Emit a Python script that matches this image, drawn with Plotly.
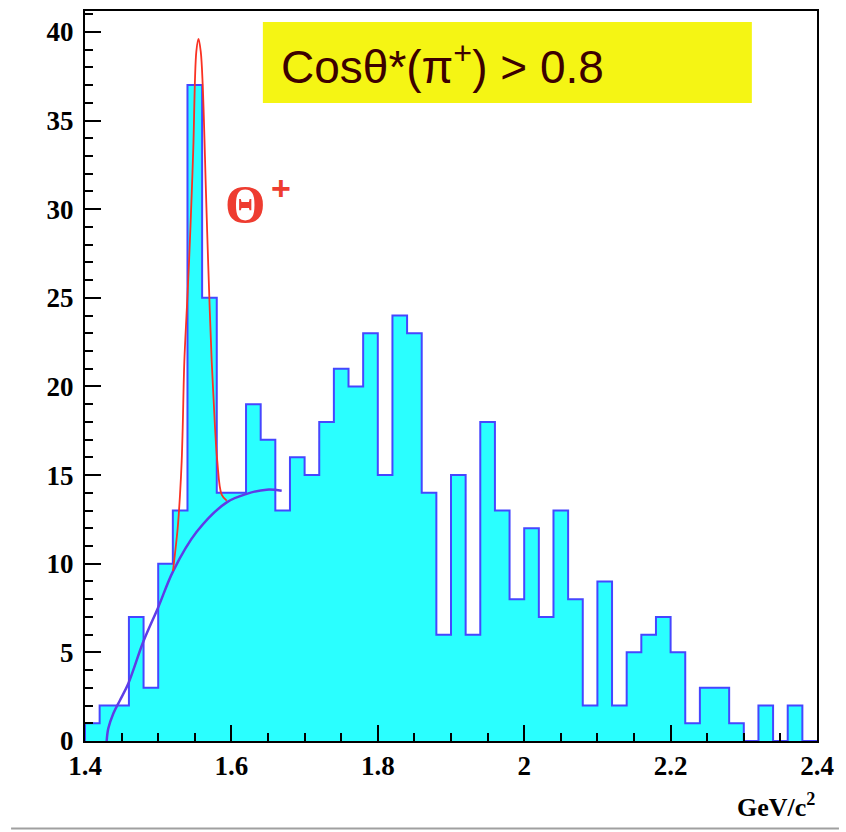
import plotly.graph_objects as go

# ---------------- data ----------------
bin_lo = 1.4
bin_width = 0.02
counts = [1, 2, 2, 7, 3, 10, 13, 37, 25, 14,
          14, 19, 17, 13, 16, 15, 18, 21, 20, 23,
          15, 24, 23, 14, 6, 15, 6, 18, 13, 8,
          12, 7, 13, 8, 2, 9, 2, 5, 6, 7,
          5, 1, 3, 3, 1, 0, 2, 0, 2, 0]

# background fit
bg_x = [1.4296, 1.4318, 1.4387, 1.4478, 1.4592, 1.4796, 1.5001, 1.5206,
        1.5526, 1.5936, 1.6209, 1.6482, 1.6687]
bg_y = [0.0, 0.7, 1.55, 2.3, 3.25, 5.6, 7.55, 9.6,
        11.8, 13.46, 13.94, 14.18, 14.12]

# signal + background fit
sig_x = [1.5202, 1.5266, 1.5298, 1.5321, 1.5335, 1.5357, 1.5390, 1.5421,
         1.5458, 1.5480, 1.5521, 1.5551, 1.5581, 1.5608, 1.5653, 1.5684,
         1.5731, 1.5776, 1.5807, 1.5867, 1.5936]
sig_y = [9.6, 12.0, 13.9, 15.8, 17.7, 21.4, 24.3, 27.0,
         30.9, 33.5, 38.9, 39.6, 38.9, 37.0, 30.9, 26.8,
         21.4, 17.7, 15.8, 13.9, 13.56]

x_ticks_dtick = 0.2
y_ticks_dtick = 5

# ---------------- build step outline ----------------
edges = [round(bin_lo + i * bin_width, 4) for i in range(len(counts) + 1)]
step_x = [edges[0]] + edges[:-1] + [edges[-1]]
step_y = [0] + counts + [counts[-1]]

fig = go.Figure()
fig.add_trace(go.Scatter(
    x=step_x, y=step_y, mode="lines", line_shape="hv",
    line=dict(color="rgb(70,70,255)", width=2),
    fill="tozeroy", fillcolor="rgb(42,255,255)",
    hoverinfo="skip", showlegend=False))
fig.add_trace(go.Scatter(
    x=bg_x, y=bg_y, mode="lines", line_shape="spline",
    line=dict(color="rgb(95,60,230)", width=2.5),
    showlegend=False))
fig.add_trace(go.Scatter(
    x=sig_x, y=sig_y, mode="lines", line_shape="spline",
    line=dict(color="rgb(250,50,35)", width=1.8),
    showlegend=False))

tickfont = dict(family="Liberation Serif", size=27, color="black", weight="bold")

fig.update_xaxes(
    range=[1.4, 2.4], tick0=1.4, dtick=x_ticks_dtick,
    ticks="inside", ticklen=16, tickwidth=1.5, tickcolor="black",
    minor=dict(dtick=0.05, tick0=1.4, ticks="inside", ticklen=8,
               tickwidth=1.5, tickcolor="black"),
    showline=True, linewidth=2, linecolor="black", mirror=True,
    showgrid=False, zeroline=False, tickfont=tickfont,
    ticklabelstandoff=0)
fig.update_yaxes(
    range=[0, 41.18], tick0=0, dtick=y_ticks_dtick,
    ticks="inside", ticklen=16, tickwidth=1.5, tickcolor="black",
    minor=dict(dtick=1, tick0=0, ticks="inside", ticklen=8,
               tickwidth=1.5, tickcolor="black"),
    showline=True, linewidth=2, linecolor="black", mirror=True,
    showgrid=False, zeroline=False, tickfont=tickfont,
    ticklabelstandoff=4)

fig.update_layout(
    width=846, height=832,
    margin=dict(l=85, r=29, t=9, b=91),
    plot_bgcolor="white", paper_bgcolor="white",
    shapes=[
        dict(type="rect", xref="paper", yref="paper",
             x0=0.243, x1=0.911, y0=0.874, y1=0.985,
             fillcolor="rgb(245,245,20)", line=dict(width=0), layer="above"),
        dict(type="line", xref="paper", yref="paper",
             x0=-0.101, x1=1.03, y0=-0.120, y1=-0.120,
             line=dict(color="rgb(160,160,160)", width=2)),
    ],
    annotations=[
        dict(text="Cosθ*(π<sup>+</sup>) > 0.8", xref="paper", yref="paper",
             x=0.489, y=0.928, xanchor="center", yanchor="middle",
             showarrow=False,
             font=dict(family="Liberation Sans", size=46, color="rgb(60,0,0)")),
        dict(text="Θ", xref="paper", yref="paper",
             x=0.188, y=0.735, xanchor="left", yanchor="middle",
             showarrow=False,
             font=dict(family="Liberation Serif", size=52, color="rgb(238,60,48)",
                       weight="bold")),
        dict(text="+", xref="paper", yref="paper",
             x=0.268, y=0.757, xanchor="center", yanchor="middle",
             showarrow=False,
             font=dict(family="Liberation Sans", size=34, color="rgb(238,60,48)",
                       weight="bold")),
        dict(text="GeV/c<sup>2</sup>", xref="paper", yref="paper",
             x=1.0, y=-0.089, xanchor="right", yanchor="middle",
             showarrow=False,
             font=dict(family="Liberation Serif", size=26, color="black",
                       weight="bold")),
    ],
)

fig.write_html("out.html")
